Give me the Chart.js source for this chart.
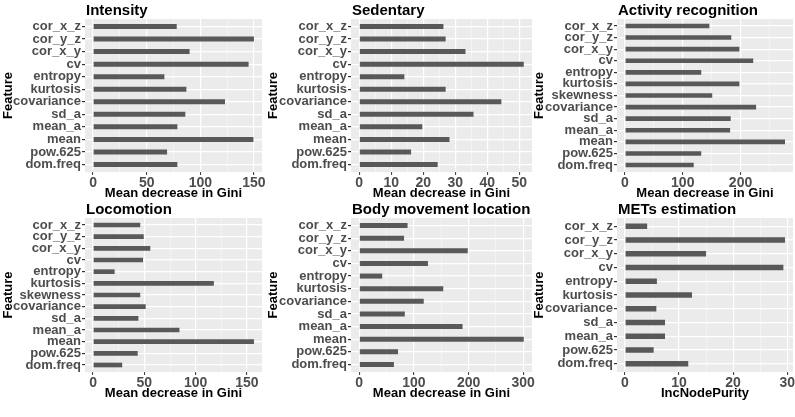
<!DOCTYPE html>
<html>
<head>
<meta charset="utf-8">
<script src="https://cdn.jsdelivr.net/npm/chart.js@4.4.1/dist/chart.umd.min.js"></script>
<style>
    body { margin: 0; background: #ffffff; overflow: hidden; }
    .wrap { position: relative; width: 795px; height: 417px; }
    canvas { position: absolute; }
</style>
</head>
<body>
<div class="wrap">
    <canvas id="intensityChart" width="280" height="201" style="left:0px;top:0px"></canvas>
    <canvas id="sedentaryChart" width="285" height="201" style="left:265px;top:0px"></canvas>
    <canvas id="activityChart" width="280" height="201" style="left:531px;top:0px"></canvas>
    <canvas id="locomotionChart" width="280" height="202" style="left:0px;top:199px"></canvas>
    <canvas id="bodyChart" width="285" height="202" style="left:265px;top:199px"></canvas>
    <canvas id="metsChart" width="280" height="202" style="left:531px;top:199px"></canvas>
</div>
<script>
// Data
const intensityFeatures = ['cor_x_z', 'cor_y_z', 'cor_x_y', 'cv', 'entropy', 'kurtosis', 'covariance', 'sd_a', 'mean_a', 'mean', 'pow.625', 'dom.freq'];
const intensityValues = [78, 150, 90, 145, 66.5, 87, 123, 86, 78.6, 149.5, 69, 78.6];

const sedentaryFeatures = ['cor_x_z', 'cor_y_z', 'cor_x_y', 'cv', 'entropy', 'kurtosis', 'covariance', 'sd_a', 'mean_a', 'mean', 'pow.625', 'dom.freq'];
const sedentaryValues = [26.3, 27, 33.2, 51.4, 14.1, 27, 44.4, 35.7, 19.7, 28.2, 16.2, 24.5];

const activityFeatures = ['cor_x_z', 'cor_y_z', 'cor_x_y', 'cv', 'entropy', 'kurtosis', 'skewness', 'covariance', 'sd_a', 'mean_a', 'mean', 'pow.625', 'dom.freq'];
const activityValues = [146, 184, 198, 222, 132, 198, 151, 227, 183, 182, 277, 132, 119];

const locomotionFeatures = ['cor_x_z', 'cor_y_z', 'cor_x_y', 'cv', 'entropy', 'kurtosis', 'skewness', 'covariance', 'sd_a', 'mean_a', 'mean', 'pow.625', 'dom.freq'];
const locomotionValues = [46, 49.4, 55.8, 48.7, 21, 117.7, 46, 51.3, 44.2, 84.2, 156.8, 43.5, 28.4];

const bodyFeatures = ['cor_x_z', 'cor_y_z', 'cor_x_y', 'cv', 'entropy', 'kurtosis', 'covariance', 'sd_a', 'mean_a', 'mean', 'pow.625', 'dom.freq'];
const bodyValues = [88.4, 82, 198.5, 125.7, 42, 153.7, 118, 83.4, 189, 301, 71, 63.5];

const metsFeatures = ['cor_x_z', 'cor_y_z', 'cor_x_y', 'cv', 'entropy', 'kurtosis', 'covariance', 'sd_a', 'mean_a', 'pow.625', 'dom.freq'];
const metsValues = [4.1, 29.6, 15, 29.3, 5.9, 12.4, 5.8, 7.4, 7.4, 5.3, 11.7];

Chart.defaults.font.family = "'Liberation Sans', Arial, sans-serif";
Chart.defaults.font.weight = 'bold';

// grey panel background + panel title (ggplot style)
const panelPlugin = {
    id: 'panel',
    beforeDraw(chart, args, opts) {
        const a = chart.chartArea;
        const ctx = chart.ctx;
        ctx.save();
        ctx.fillStyle = '#EBEBEB';
        ctx.fillRect(a.left, a.top, a.right - a.left, a.bottom - a.top);
        ctx.restore();
    },
    afterDraw(chart, args, opts) {
        const ctx = chart.ctx;
        ctx.save();
        ctx.fillStyle = '#000000';
        ctx.font = "bold 15px 'Liberation Sans', Arial, sans-serif";
        ctx.textAlign = 'left';
        ctx.textBaseline = 'alphabetic';
        ctx.fillText(opts.text, chart.chartArea.left + 1, chart.chartArea.top - 4);
        ctx.restore();
    }
};

function makePanel(id, title, features, values, step, xTitle, axisWidth) {
    const maxVal = Math.max(...values);
    const lo = -0.05 * maxVal;
    const hi = 1.05 * maxVal;
    const half = step / 2;
    const isMajor = v => Math.abs(v / step - Math.round(v / step)) < 1e-6;
    const canvas = document.getElementById(id);

    // feature index on a linear axis so the discrete padding matches ggplot (0.6)
    const points = values.map((v, i) => ({ x: v, y: i }));

    new Chart(canvas.getContext('2d'), {
        type: 'bar',
        data: {
            datasets: [{
                data: points,
                backgroundColor: '#595959',
                barPercentage: 0.4,
                categoryPercentage: 1
            }]
        },
        plugins: [panelPlugin],
        options: {
            indexAxis: 'y',
            responsive: false,
            animation: false,
            layout: { padding: { top: 19, right: 18, left: 0, bottom: 0 } },
            plugins: {
                legend: { display: false },
                tooltip: { enabled: false },
                panel: { text: title }
            },
            scales: {
                x: {
                    type: 'linear',
                    min: lo,
                    max: hi,
                    afterBuildTicks: scale => {
                        const ticks = [];
                        for (let v = Math.ceil(lo / half) * half; v <= hi; v += half) {
                            ticks.push({ value: v });
                        }
                        scale.ticks = ticks;
                    },
                    afterFit: scale => { scale.height = 29; },
                    border: { display: false },
                    grid: {
                        color: ctx => isMajor(ctx.tick.value) ? '#FFFFFF' : 'rgba(255,255,255,0.65)',
                        lineWidth: ctx => isMajor(ctx.tick.value) ? 1.2 : 0.6,
                        tickColor: ctx => isMajor(ctx.tick.value) ? '#333333' : 'rgba(0,0,0,0)',
                        tickLength: 3,
                        tickWidth: 1
                    },
                    ticks: {
                        autoSkip: false,
                        maxRotation: 0,
                        padding: 0,
                        color: '#4D4D4D',
                        font: { size: 14, weight: 'bold' },
                        callback: v => isMajor(v) ? String(Math.round(v)) : ''
                    },
                    title: {
                        display: true,
                        text: xTitle,
                        color: '#000000',
                        padding: { top: 0, bottom: 0 },
                        font: { size: 13, weight: 'bold' }
                    }
                },
                y: {
                    type: 'linear',
                    reverse: true,
                    offset: false,
                    min: -0.6,
                    max: features.length - 0.4,
                    afterBuildTicks: scale => {
                        scale.ticks = features.map((f, i) => ({ value: i }));
                    },
                    afterFit: scale => { scale.width = axisWidth; },
                    border: { display: false },
                    grid: {
                        offset: false,
                        color: '#FFFFFF',
                        lineWidth: 1.2,
                        tickColor: '#333333',
                        tickLength: 3
                    },
                    ticks: {
                        autoSkip: false,
                        padding: 1,
                        color: '#4D4D4D',
                        font: { size: 13, weight: 'bold' },
                        callback: v => features[Math.round(v)]
                    },
                    title: {
                        display: true,
                        text: 'Feature',
                        color: '#000000',
                        padding: { top: 1, bottom: 0 },
                        font: { size: 13, weight: 'bold' }
                    }
                }
            }
        }
    });
}

// Charts
makePanel('intensityChart', 'Intensity', intensityFeatures, intensityValues, 50, 'Mean decrease in Gini', 85);
makePanel('sedentaryChart', 'Sedentary', sedentaryFeatures, sedentaryValues, 10, 'Mean decrease in Gini', 86);
makePanel('activityChart', 'Activity recognition', activityFeatures, activityValues, 100, 'Mean decrease in Gini', 86);
makePanel('locomotionChart', 'Locomotion', locomotionFeatures, locomotionValues, 50, 'Mean decrease in Gini', 85);
makePanel('bodyChart', 'Body movement location', bodyFeatures, bodyValues, 100, 'Mean decrease in Gini', 86);
makePanel('metsChart', 'METs estimation', metsFeatures, metsValues, 10, 'IncNodePurity', 86);
</script>
</body>
</html>
